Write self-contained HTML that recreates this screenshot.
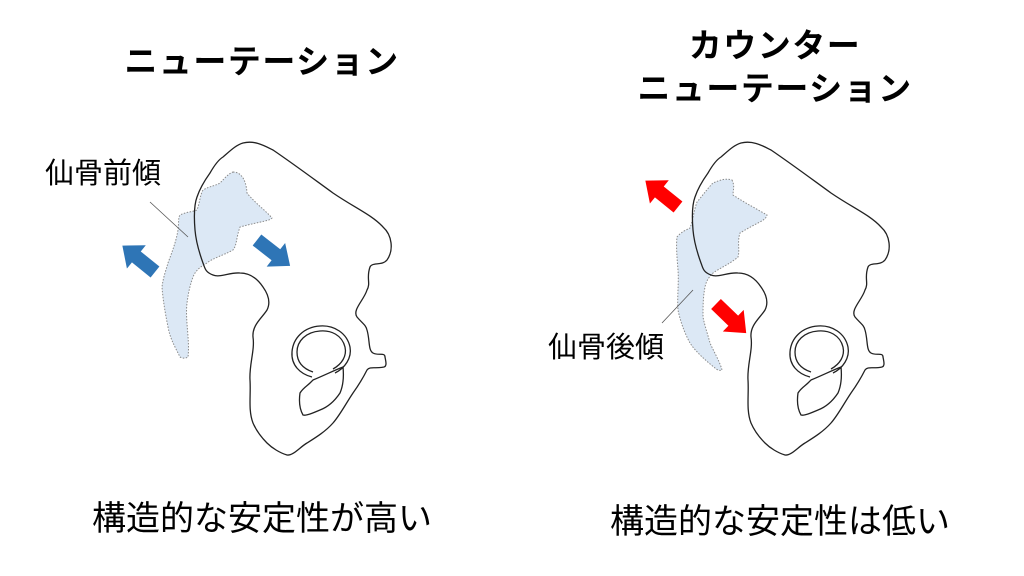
<!DOCTYPE html>
<html><head><meta charset="utf-8"><style>
html,body{margin:0;padding:0;background:#fff}
svg{display:block}
text{font-family:"Liberation Sans","Noto Sans CJK JP",sans-serif;fill:#000}
</style></head><body>
<svg width="1024" height="576" viewBox="0 0 1024 576" xmlns="http://www.w3.org/2000/svg">
<defs>
<path id="pel" d="M243,143 C255,140 265,146 273,150 C295,165 315,180 333,193 C355,208 372,215 383,227 C392,235 394,250 387,260 C382,266 372,262 370,267 C366,278 371,283 367,290 C364,300 352,310 357,317 C362,323 366,325 367,330 C370,340 368,350 373,353 C378,356 385,352 385,357 C386,362 387,366 384,367 C375,369 370,366 367,370 C362,380 358,386 353,393 C345,405 340,415 333,423 C325,432 315,438 307,443 C300,447 293,456 287,455 C280,453 272,448 267,443 C260,436 256,430 253,423 C248,410 251,395 250,380 C249,365 255,350 253,337 C252,325 262,318 267,310 C271,302 268,294 263,287 C257,278 250,273 240,273 C230,272 220,278 213,275 C205,272 205,268 203,263 C199,252 196,242 195,230 C194,218 194,205 197,197 C200,188 205,180 210,173 C214,166 218,160 223,157 C230,151 236,145 243,143 Z"/>
<g id="acet">
<path d="M335,373 C345,368 352,358 350,347 C347,333 334,325 320,326 C304,327 293,338 292,352 C291,365 300,374 312,377" fill="none" stroke="#222" stroke-width="1.3"/>
<path d="M333,369 C342,364 347,356 345,347 C342,335 331,330 320,331 C306,332 297,341 297,352 C297,363 304,369 313,372" fill="none" stroke="#222" stroke-width="1.3"/>
<path d="M313,380 C325,375 335,370 343,367 C344,377 343,386 340,393 C334,402 328,407 320,410 C313,413 306,416 303,415 C299,408 299,400 300,393 C303,388 307,386 310,383 Z" fill="none" stroke="#222" stroke-width="1.3"/>
</g>
<polygon id="arr" points="0,-7 24,-7 24,-15 42,0 24,15 24,7 0,7"/>
</defs>

<text x="262" y="73" font-size="33" font-weight="bold" text-anchor="middle" letter-spacing="1.5">ニューテーション</text>
<text x="775" y="57" font-size="33" font-weight="bold" text-anchor="middle" letter-spacing="1.5">カウンター</text>
<text x="775" y="100" font-size="33" font-weight="bold" text-anchor="middle" letter-spacing="1.5">ニューテーション</text>

<!-- Left -->
<path d="M233,172 C240,172 246,178 247,193 C255,203 265,210 272,218 C270,221 262,221 240,227 C236,238 237,245 233,250 C222,256 213,258 207,263 C198,268 195,272 193,277 C189,288 188,296 187,303 C185,320 190,340 188,357 C185,359 182,358 180,357 C174,345 170,338 168,327 C165,312 163,300 162,287 C163,278 166,270 168,263 C172,252 176,242 178,230 C179,222 178,218 180,215 C186,212 192,212 197,210 C200,202 200,195 203,190 C210,186 215,186 220,183 C225,178 228,174 233,172 Z" fill="#dce8f5" stroke="#8a8a8a" stroke-width="1" stroke-dasharray="1.5,1.5"/>
<use href="#pel" fill="none" stroke="#222" stroke-width="1.3"/>
<use href="#acet"/>
<line x1="150" y1="202" x2="188" y2="237" stroke="#555" stroke-width="0.8"/>
<text x="45" y="183" font-size="29">仙骨前傾</text>
<use href="#arr" fill="#2e75b6" transform="translate(155,272) rotate(-141)"/>
<use href="#arr" fill="#2e75b6" transform="translate(257,240) rotate(38)"/>

<!-- Right -->
<path d="M732,180 C735,186 733,190 733,195 C745,203 757,209 767,215 C766,219 763,220 760,222 C752,226 745,230 740,233 C737,242 740,250 738,257 C730,264 720,268 713,273 C708,278 706,282 705,287 C703,297 703,307 703,317 C705,327 708,335 710,343 C714,352 720,362 722,370 C720,371 717,370 715,368 C705,360 696,352 690,343 C684,332 680,320 678,310 C677,296 679,283 678,270 C677,258 676,246 677,237 C681,232 686,230 690,228 C693,220 694,210 697,202 C703,195 708,188 713,183 C720,180 726,178 732,180 Z" fill="#dce8f5" stroke="#8a8a8a" stroke-width="1" stroke-dasharray="1.5,1.5"/>
<g transform="translate(498,0)">
<use href="#pel" fill="none" stroke="#222" stroke-width="1.3"/>
<use href="#acet"/>
</g>
<line x1="693" y1="290" x2="662" y2="323" stroke="#555" stroke-width="0.8"/>
<text x="548" y="357" font-size="29">仙骨後傾</text>
<use href="#arr" fill="#ff0000" transform="translate(678,207) rotate(-141)"/>
<use href="#arr" fill="#ff0000" transform="translate(716,304) rotate(44)"/>

<text x="92" y="530" font-size="34">構造的な安定性が高い</text>
<text x="610" y="533" font-size="34">構造的な安定性は低い</text>
</svg>
</body></html>
